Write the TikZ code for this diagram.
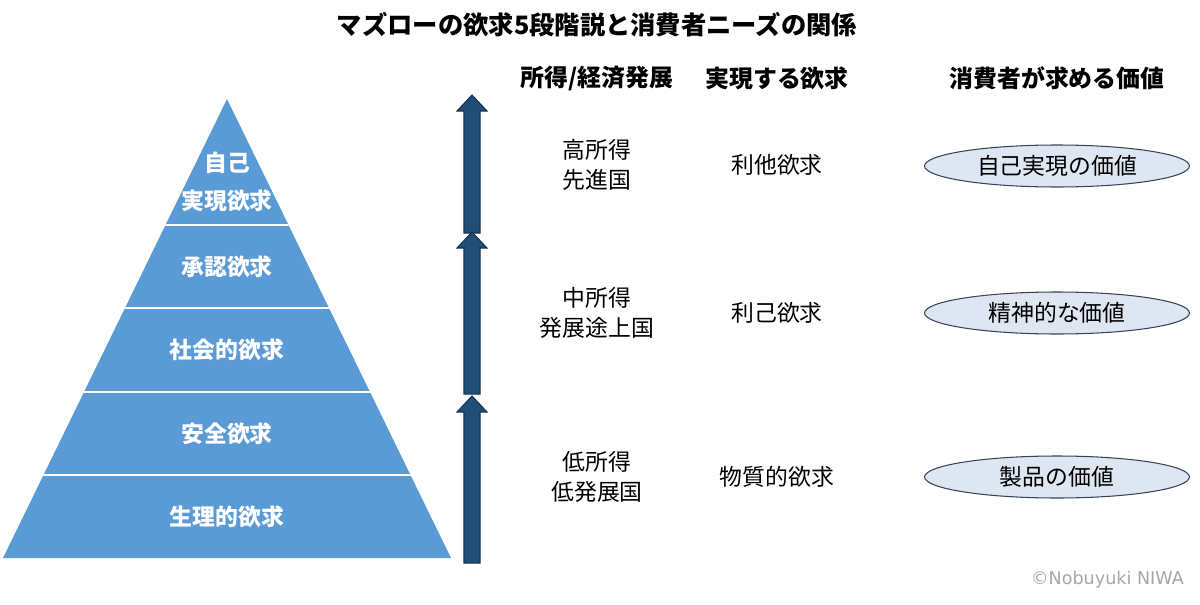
\documentclass[tikz,border=0pt]{standalone}
\usepackage{fontspec}
\setmainfont{Noto Sans CJK JP}
\newfontfamily\copyfont{DejaVu Sans}
\usetikzlibrary{shapes.geometric}

\definecolor{pyrblue}{RGB}{91,155,213}
\definecolor{arrowblue}{RGB}{31,78,121}
\definecolor{arrowedge}{RGB}{22,52,84}
\definecolor{valfill}{RGB}{222,230,242}
\definecolor{valedge}{RGB}{55,68,88}
\definecolor{copygray}{RGB}{166,166,166}

\begin{document}
\begin{tikzpicture}[
  x=0.02cm, y=-0.02cm,
  layer/.style={text=white, font=\fontsize{13}{21.5}\selectfont\bfseries, align=center},
  head/.style={font=\fontsize{13.6}{17}\selectfont\bfseries},
  cell/.style={font=\fontsize{13}{17}\selectfont, align=center},
  value/.style={ellipse, draw=valedge, fill=valfill, line width=0.6pt,
    minimum width=5.3cm, minimum height=0.84cm, inner sep=0pt,
    font=\fontsize{13}{17}\selectfont}
]
  \useasboundingbox (0,0) rectangle (1200,605);

  % title
  \node[font=\fontsize{14.4}{17}\selectfont\bfseries] (title) at (597,25)
    {マズローの欲求5段階説と消費者ニーズの関係};

  % pyramid
  \fill[pyrblue] (227,99) -- (451,558) -- (3,558) -- cycle;
  \begin{scope}
    \clip (227,99) -- (451,558) -- (3,558) -- cycle;
    \foreach \y in {225,308,392,475}
      \draw[white, line width=1.2pt] (0,\y) -- (460,\y);
  \end{scope}

  \node[layer] (self) at (227,182) {自己\\実現欲求};
  \node[layer] (esteem) at (227,267) {承認欲求};
  \node[layer] (social) at (227,350) {社会的欲求};
  \node[layer] (safety) at (227,434) {安全欲求};
  \node[layer] (physio) at (227,517) {生理的欲求};

  % block arrows, bottom/tip
  \foreach \b/\t in {233/95, 394/232, 563/396}
    \filldraw[fill=arrowblue, draw=arrowedge, line width=0.6pt]
      (464,\b) -- (464,\t+16) -- (457,\t+16) -- (472,\t) -- (487,\t+16)
      -- (480,\t+16) -- (480,\b) -- cycle;

  % headers
  \node[head] (income) at (597,78) {所得/経済発展};
  \node[head] (want) at (777,78) {実現する欲求};
  \node[head] (valhead) at (1057,78) {消費者が求める価値};

  % rows
  \node[cell] (high) at (597,165) {高所得\\先進国};
  \node[cell] (mid) at (597,313) {中所得\\発展途上国};
  \node[cell] (low) at (597,477) {低所得\\低発展国};

  \node[cell] (altru) at (777,165) {利他欲求};
  \node[cell] (ego) at (777,313) {利己欲求};
  \node[cell] (mat) at (777,477) {物質的欲求};

  \node[value] (vself) at (1057,166) {自己実現の価値};
  \node[value] (vmind) at (1057,313) {精神的な価値};
  \node[value] (vgoods) at (1057,477) {製品の価値};

  \node[anchor=east, text=copygray, font=\copyfont\fontsize{10}{12}\selectfont]
    (copy) at (1190,580) {©Nobuyuki NIWA};
\end{tikzpicture}
\end{document}
